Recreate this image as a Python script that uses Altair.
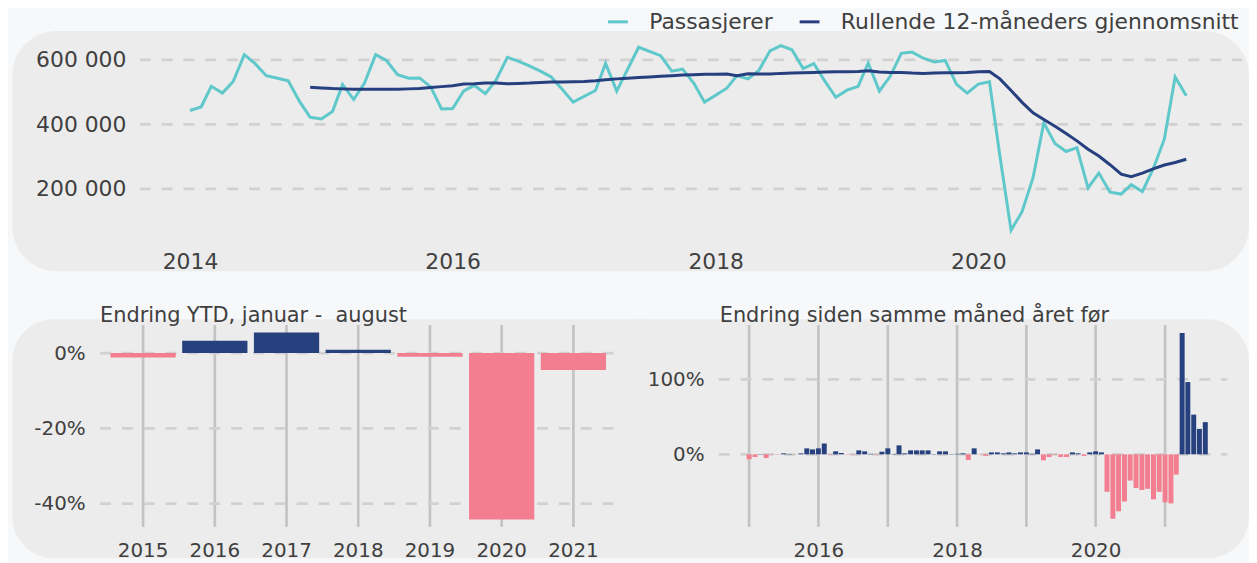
import altair as alt
import pandas as pd

# ---------------- data ----------------
series_names = ["Passasjerer", "Rullende 12-måneders gjennomsnitt"]

# monthly passengers (thousands), Jan 2014 - Aug 2021
passengers = [
    443, 454, 518, 497, 533, 616, 588, 551, 543, 535, 472, 422,
    417, 440, 523, 477, 528, 616, 598, 554, 543, 544, 516, 448,
    449, 504, 521, 495, 538, 608, 596, 581, 565, 547, 508, 469,
    487, 505, 589, 503, 570, 639, 626, 613, 565, 571, 528, 469,
    490, 512, 551, 541, 567, 628, 644, 631, 573, 588, 533, 484,
    506, 518, 590, 503, 549, 620, 624, 605, 593, 598, 525, 497,
    525, 532, 302, 72, 128, 234, 405, 341, 316, 328, 203, 249,
    190, 184, 213, 192, 262, 354, 547, 489,
]
passenger_months = pd.date_range("2014-01-01", "2021-08-01", freq="MS").strftime("%Y-%m-%d").tolist()

# rolling 12-month average (thousands), Dec 2014 - Aug 2021
rolling_avg = [
    515,
    513, 511, 510, 509, 509, 509, 509, 509, 510, 511, 514, 517,
    520, 525, 526, 528, 528, 526, 527, 528, 530, 531, 531, 532,
    533, 535, 538, 541, 543, 545, 547, 549, 551, 553, 554, 555,
    555, 556, 551, 557, 556, 556, 558, 559, 560, 561, 562, 563,
    563, 564, 566, 562, 561, 561, 559, 558, 559, 560, 560, 561,
    563, 564, 541, 505, 469, 436, 415, 394, 372, 349, 323, 302,
    275, 246, 238, 249, 262, 274, 282, 292,
]
rolling_months = pd.date_range("2014-12-01", "2021-08-01", freq="MS").strftime("%Y-%m-%d").tolist()

top_y_ticks = [200000, 400000, 600000]
top_x_ticks = ["2014-01-01", "2016-01-01", "2018-01-01", "2020-01-01"]

ytd_title = "Endring YTD, januar -\u00a0 august"
ytd_years = ["2015", "2016", "2017", "2018", "2019", "2020", "2021"]
ytd_change = [-1.2, 3.3, 5.5, 0.9, -1.0, -44.2, -4.5]  # percent
ytd_ticks = [-0.4, -0.2, 0.0]

yoy_title = "Endring siden samme måned året før"
# change vs same month previous year (percent), Jan 2015 - Aug 2021
yoy_change = [
    -6.5, -3.5, 0.5, -5.0, -0.5, -0.5, 1.3, 0.5, -0.3, 1.3, 8.0, 6.6,
    8.0, 14.5, -0.5, 4.0, 1.8, -0.5, -0.5, 5.3, 4.0, 0.7, -0.5, 3.5,
    8.0, 0.5, 12.0, 1.3, 5.3, 5.3, 5.3, 5.3, 0.5, 4.0, 4.0, 0.5,
    0.7, 1.3, -7.5, 8.0, -0.5, -2.0, 2.6, 2.6, 1.3, 2.6, 1.3, 2.6,
    2.6, 0.7, 6.6, -8.0, -3.5, -0.7, -3.5, -3.5, 2.6, 1.3, -2.0, 2.6,
    4.0, 2.6, -50.0, -86.0, -76.0, -63.0, -35.0, -45.0, -47.5, -46.0, -60.0, -50.0,
    -64.0, -65.5, -27.0, 162.0, 96.5, 53.0, 34.0, 43.0,
]
yoy_months = pd.date_range("2015-01-01", "2021-08-01", freq="MS").strftime("%Y-%m-%d").tolist()
yoy_year_lines = ["2015-01-01", "2016-01-01", "2017-01-01", "2018-01-01",
                  "2019-01-01", "2020-01-01", "2021-01-01"]
yoy_label_years = ["2016-01-01", "2018-01-01", "2020-01-01"]
yoy_ticks = [0.0, 1.0]

# ---------------- style ----------------
FONT = "DejaVu Sans"
TEXT = "#404040"
PANEL = "#ececec"
PAGE = "#f7f8fa"
TEAL = "#5ec8cb"
NAVY = "#263f7f"
BAR_POS = "#27417f"
BAR_NEG = "#f27e90"
DASH = "#d1d1d1"
VGRID = "#c3c3c3"

TOP_W, TOP_H = 1150, 195
BL_W, BL_H = 520, 203.3
BR_W, BR_H = 512, 203.3


def ms(s):
    return int(pd.Timestamp(s, tz="UTC").value // 10**6)


def panel(x1, x2, y1, y2, tl=0, tr=0, bl=0, br=0):
    return alt.Chart(pd.DataFrame({"p": [0]})).mark_rect(
        color=PANEL, cornerRadiusTopLeft=tl, cornerRadiusTopRight=tr,
        cornerRadiusBottomLeft=bl, cornerRadiusBottomRight=br,
    ).encode(x=alt.value(x1), x2=alt.value(x2), y=alt.value(y1), y2=alt.value(y2))


def title_text(t, x, y):
    return alt.Chart(pd.DataFrame({"t": [t]})).mark_text(
        align="left", baseline="alphabetic", font=FONT, fontSize=21, color=TEXT
    ).encode(x=alt.value(x), y=alt.value(y), text="t:N")


PCT = "(datum.value < 0 ? '-' : '') + format(round(abs(datum.value) * 100), 'd') + '%'"
common_axis = dict(title=None, grid=False, domain=False, ticks=False, tickSize=0,
                   labelFont=FONT, labelColor=TEXT, zindex=1)

# ---------------- top chart ----------------
line_df = pd.DataFrame({
    "date": passenger_months + rolling_months,
    "value": [v * 1000 for v in passengers] + [v * 1000 for v in rolling_avg],
    "serie": [series_names[0]] * len(passengers) + [series_names[1]] * len(rolling_avg),
})

top_x_scale = alt.Scale(type="utc", domain=[ms("2013-04-26"), ms("2022-01-03")])
top_y_scale = alt.Scale(domain=[50000, 650000], nice=False, zero=False)
top_x_axis = alt.Axis(values=[ms(d) for d in top_x_ticks],
                      labelExpr="utcFormat(datum.value, '%Y')",
                      labelFontSize=22, labelPadding=14, labelFlush=False,
                      labelOverlap=False, **common_axis)
top_y_axis = alt.Axis(values=top_y_ticks,
                      labelExpr="format(datum.value / 1000, 'd') + ' 000'",
                      labelFontSize=22, labelPadding=14, offset=-40, **common_axis)

top_bg = panel(-88.3, 1157, -12.75, 229.25, 45, 45, 45, 45)
top_grid = alt.Chart(pd.DataFrame({"value": top_y_ticks})).mark_rule(
    color=DASH, strokeWidth=2.7, strokeDash=[11, 11]
).encode(y=alt.Y("value:Q", scale=top_y_scale, axis=top_y_axis),
         x=alt.value(40), x2=alt.value(TOP_W))
top_lines = alt.Chart(line_df).mark_line(strokeWidth=3).encode(
    x=alt.X("date:T", scale=top_x_scale, axis=top_x_axis),
    y=alt.Y("value:Q", scale=top_y_scale, axis=top_y_axis),
    color=alt.Color(
        "serie:N",
        scale=alt.Scale(domain=series_names, range=[TEAL, NAVY]),
        legend=alt.Legend(
            title=None, orient="none", legendX=510, legendY=-33.75,
            direction="horizontal", labelFont=FONT, labelFontSize=22,
            labelColor=TEXT, labelLimit=1000, symbolType="stroke",
            symbolStrokeWidth=3, symbolSize=400, labelOffset=20,
            columnPadding=20,
        ),
    ),
)
top = alt.layer(top_bg, top_grid, top_lines).properties(width=TOP_W, height=TOP_H)

# ---------------- bottom left: YTD ----------------
ytd_df = pd.DataFrame({"year": ytd_years, "v": [c / 100 for c in ytd_change]})
bl_x_scale = alt.Scale(type="band", domain=ytd_years, paddingInner=0.09, paddingOuter=0.145)
bl_y_scale = alt.Scale(domain=[-0.4617, 0.0747], nice=False)
bl_x_axis = alt.Axis(labelAngle=0, labelFontSize=20, labelPadding=14, **common_axis)
bl_y_axis = alt.Axis(values=ytd_ticks, labelExpr=PCT, labelFontSize=20,
                     labelPadding=15, **common_axis)

bl_bg = panel(-88.3, 548, -5.7, 235, tl=42, bl=42)
bl_vgrid = alt.Chart(ytd_df).mark_rule(color=VGRID, strokeWidth=2.7).encode(
    x=alt.X("year:N", scale=bl_x_scale, axis=bl_x_axis),
    y=alt.value(0), y2=alt.value(BL_H))
bl_hgrid = alt.Chart(pd.DataFrame({"v": ytd_ticks})).mark_rule(
    color=DASH, strokeWidth=2.7, strokeDash=[11, 11]
).encode(y=alt.Y("v:Q", scale=bl_y_scale, axis=bl_y_axis),
         x=alt.value(0), x2=alt.value(BL_W))
bl_bars = alt.Chart(ytd_df).mark_bar().encode(
    x=alt.X("year:N", scale=bl_x_scale, axis=bl_x_axis),
    y=alt.Y("v:Q", scale=bl_y_scale, axis=bl_y_axis),
    y2=alt.datum(0),
    color=alt.condition("datum.v < 0", alt.value(BAR_NEG), alt.value(BAR_POS)),
)
bl = alt.layer(bl_bg, bl_vgrid, bl_hgrid, bl_bars, title_text(ytd_title, 0, -3)).properties(
    width=BL_W, height=BL_H)

# ---------------- bottom right: YoY ----------------
yoy_df = pd.DataFrame({"date": yoy_months, "v": [c / 100 for c in yoy_change]})
br_x_scale = alt.Scale(type="utc", domain=[ms("2014-08-20"), ms("2021-10-29")])
br_y_scale = alt.Scale(domain=[-0.968, 1.727], nice=False)
br_x_axis = alt.Axis(values=[ms(d) for d in yoy_label_years],
                     labelExpr="utcFormat(datum.value, '%Y')",
                     labelFontSize=20, labelPadding=13.5, labelFlush=False,
                     labelOverlap=False, **common_axis)
br_y_axis = alt.Axis(values=yoy_ticks, labelExpr=PCT, labelFontSize=20,
                     labelPadding=14.7, **common_axis)

br_bg = panel(-83, 534, -5.7, 235, tr=42, br=42)
br_vgrid = alt.Chart(pd.DataFrame({"date": yoy_year_lines})).mark_rule(
    color=VGRID, strokeWidth=2.7
).encode(x=alt.X("date:T", scale=br_x_scale, axis=br_x_axis),
         y=alt.value(0), y2=alt.value(BR_H))
br_hgrid = alt.Chart(pd.DataFrame({"v": yoy_ticks})).mark_rule(
    color=DASH, strokeWidth=2.7, strokeDash=[11, 11]
).encode(y=alt.Y("v:Q", scale=br_y_scale, axis=br_y_axis),
         x=alt.value(0), x2=alt.value(BR_W))
br_bars = alt.Chart(yoy_df).mark_bar(size=5).encode(
    x=alt.X("date:T", scale=br_x_scale, axis=br_x_axis),
    y=alt.Y("v:Q", scale=br_y_scale, axis=br_y_axis),
    y2=alt.datum(0),
    color=alt.condition("datum.v < 0", alt.value(BAR_NEG), alt.value(BAR_POS)),
)
br = alt.layer(br_bg, br_vgrid, br_hgrid, br_bars, title_text(yoy_title, 1, -2.5)).properties(
    width=BR_W, height=BR_H)

bottom = alt.hconcat(bl, br, spacing=103, bounds="flush")

chart = alt.vconcat(top, bottom, spacing=88.25, bounds="flush").properties(
    padding={"left": 3.7, "top": 0, "right": 0, "bottom": 0},
    background=PAGE,
).configure(font=FONT).configure_view(stroke=None)

chart.save("out.html", embed_options={"renderer": "svg", "actions": False})
